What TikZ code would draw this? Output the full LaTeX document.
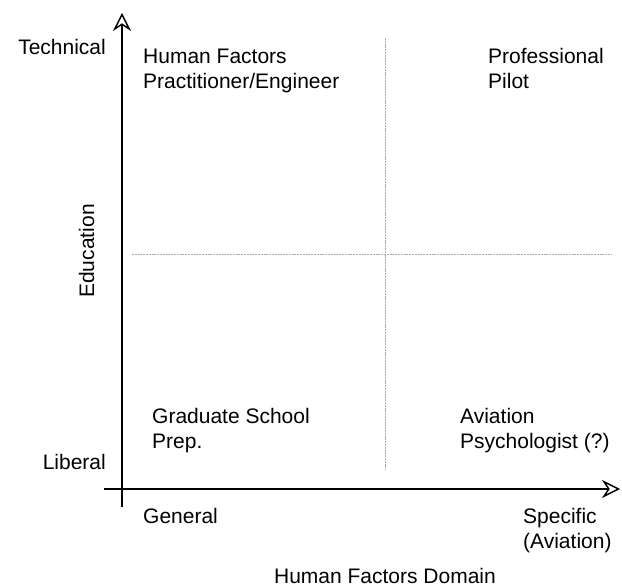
\documentclass[tikz,border=0pt]{standalone}
\usepackage{fontspec}
\setmainfont{Liberation Sans}
\usetikzlibrary{arrows.meta}
\begin{document}
\begin{tikzpicture}[x=1pt,y=-1pt,
  lbl/.style={inner sep=0pt,font=\fontsize{21}{25}\selectfont},
  axis/.style={line width=1.7pt,
    -{Stealth[open,length=18pt,width=18pt,inset=6pt,line width=1.4pt]}},
  divider/.style={gray!65,line width=0.8pt,dash pattern=on 2pt off 0.8pt}]
\useasboundingbox (0,0) rectangle (622,588);
% axes
\coordinate (xs) at (104,489);
\coordinate (xe) at (620,489);
\coordinate (ys) at (122,507);
\coordinate (ye) at (122,13);
\draw[axis] (xs) -- (xe);
\draw[axis] (ys) -- (ye);
% quadrant dividers
\coordinate (vt) at (385,38);
\coordinate (vb) at (385,470);
\coordinate (hl) at (132,254);
\coordinate (hr) at (612,254);
\draw[divider] (vt) -- (vb);
\draw[divider] (hl) -- (hr);
% axis labels
\node[lbl,anchor=base east] (tech) at (106,55) {Technical};
\node[lbl,anchor=base east] (lib) at (106,469) {Liberal};
\node[lbl,rotate=90,anchor=base] (edu) at (94,251) {Education};
\node[lbl,anchor=base west] (gen) at (143,523) {General};
\node[lbl,anchor=base west] (spec) at (523,523) {Specific};
\node[lbl,anchor=base west] (spec2) at (523,548) {(Aviation)};
\node[lbl,anchor=base] (dom) at (385,583) {Human Factors Domain};
% quadrant contents
\node[lbl,anchor=base west] (hfe) at (143,64) {Human Factors};
\node[lbl,anchor=base west] (hfe2) at (143,89) {Practitioner/Engineer};
\node[lbl,anchor=base west] (pilot) at (488,64) {Professional};
\node[lbl,anchor=base west] (pilot2) at (488,89) {Pilot};
\node[lbl,anchor=base west] (grad) at (152,424) {Graduate School};
\node[lbl,anchor=base west] (grad2) at (152,449) {Prep.};
\node[lbl,anchor=base west] (psy) at (460,424) {Aviation};
\node[lbl,anchor=base west] (psy2) at (460,449) {Psychologist (?)};
\end{tikzpicture}
\end{document}
